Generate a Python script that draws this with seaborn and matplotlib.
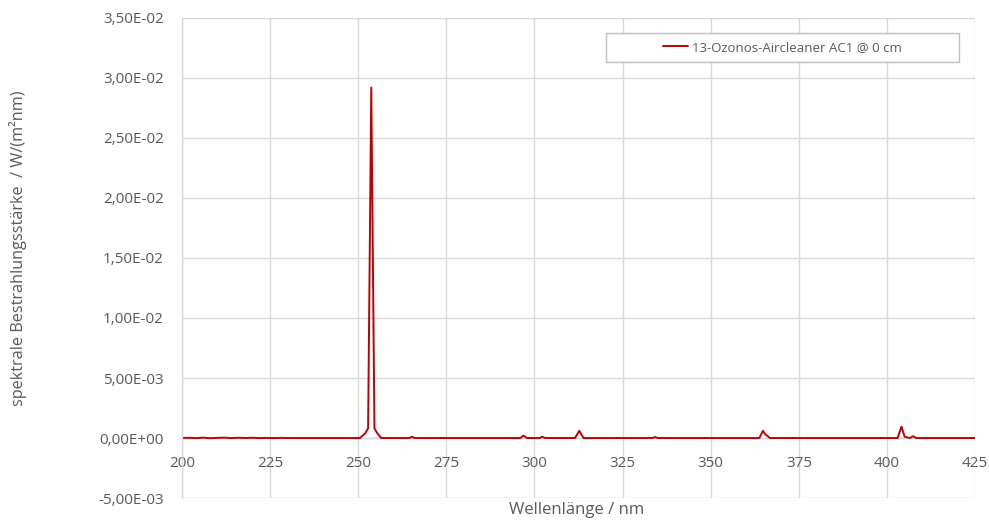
import matplotlib
matplotlib.use("Agg")
import matplotlib.pyplot as plt
from matplotlib.patches import Rectangle
from matplotlib.ticker import FuncFormatter, MultipleLocator
import seaborn as sns
import pandas as pd

# Spectral irradiance of the lamp (wavelength in nm, irradiance in W/(m²nm))
wavelength = [200, 202, 204, 206, 208, 210, 212, 214, 216, 218, 220, 222, 224, 226, 228, 230,
              240, 250.5, 252.0, 252.8, 253.7, 254.6, 255.4, 256.5,
              264.5, 265.2, 266.0, 296.0, 296.9, 297.8, 301.5, 302.2, 303.0,
              311.5, 312.7, 313.9, 333.5, 334.2, 335.0,
              363.8, 364.8, 365.5, 366.8, 403.0, 404.1, 405.0, 406.5, 407.4, 408.3, 425]
irradiance = [0.0, 0.00002, -0.00001, 0.00003, -0.00002, 0.00001, 0.00003, -0.00001, 0.00002,
              0.0, 0.00002, -0.00001, 0.00001, -0.00001, 0.00001, 0.0,
              0.0, 0.0, 0.0004, 0.0008, 0.0292, 0.0008, 0.0004, 0.0,
              0.0, 0.0001, 0.0, 0.0, 0.0002, 0.0, 0.0, 0.0001, 0.0,
              0.0, 0.0006, 0.0, 0.0, 0.00008, 0.0,
              0.0, 0.0006, 0.0003, 0.0, 0.0, 0.00095, 0.0001, 0.0, 0.00015, 0.0, 0.0]
series_name = "13-Ozonos-Aircleaner AC1 @ 0 cm"

x_ticks = [200, 225, 250, 275, 300, 325, 350, 375, 400, 425]

df = pd.DataFrame({"Wellenlänge": wavelength, "Bestrahlungsstärke": irradiance})

sns.set_theme(style="white")
plt.rcParams["font.family"] = ["Open Sans", "DejaVu Sans"]
text_color = "#595959"
grid_color = "#d9d9d9"
line_color = "#c00000"

fig = plt.figure(figsize=(9.89, 5.2), dpi=100)
ax = fig.add_axes([0.184, 0.0423, 0.802, 0.9231])

sns.lineplot(data=df, x="Wellenlänge", y="Bestrahlungsstärke", ax=ax,
             color=line_color, linewidth=1.4, label=series_name, legend=False)

ax.set_xlim(200, 425)
ax.set_ylim(-0.005, 0.035)
ax.set_xticks(x_ticks)
ax.yaxis.set_major_locator(MultipleLocator(0.005))
ax.yaxis.set_major_formatter(FuncFormatter(lambda v, p: f"{v:.2E}".replace(".", ",")))

ax.grid(True, color=grid_color, linewidth=1.0)
ax.set_axisbelow(True)

for side in ["top", "right"]:
    ax.spines[side].set_visible(False)
ax.spines["left"].set_color(grid_color)
ax.spines["left"].set_linewidth(1.0)
ax.spines["bottom"].set_position(("data", 0))
ax.spines["bottom"].set_color(grid_color)
ax.spines["bottom"].set_linewidth(1.0)
ax.spines["bottom"].set_zorder(0.5)

ax.tick_params(axis="both", length=0, labelsize=11, labelcolor=text_color)
ax.tick_params(axis="y", pad=13)
ax.tick_params(axis="x", pad=13)

ax.set_xlabel("Wellenlänge / nm", fontsize=12, color=text_color)
ax.set_ylabel("spektrale Bestrahlungsstärke  / W/(m²nm)", fontsize=11.7, color=text_color)
ax.xaxis.set_label_coords(0.498, -0.025)
ax.xaxis.label.set_verticalalignment("center")
ax.yaxis.set_label_coords(-0.207, 0.52)
ax.yaxis.label.set_verticalalignment("center")

# Legend box in the upper right
ax.add_patch(Rectangle((0.5347, 0.908), 0.4455, 0.061, transform=ax.transAxes,
                       facecolor="white", edgecolor="#bfbfbf", linewidth=1.0, zorder=4))
leg = ax.legend(loc="center", bbox_to_anchor=(0.757, 0.9385), frameon=False,
                fontsize=9.5, handlelength=1.9, handletextpad=0.25, labelcolor=text_color)
leg.set_zorder(5)

fig.savefig("out.png", dpi=100)
